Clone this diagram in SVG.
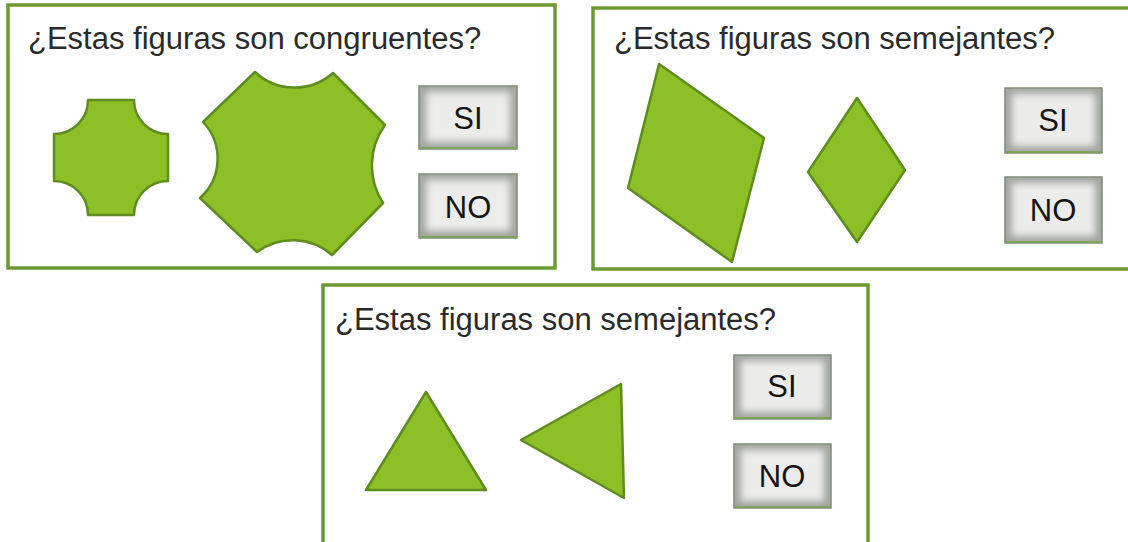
<svg xmlns="http://www.w3.org/2000/svg" width="1128" height="542" viewBox="0 0 1128 542">
<style>
.panel{fill:#fff;stroke:#6c9a32;stroke-width:3.5}
.q{font-family:"Liberation Sans",Arial,sans-serif;font-size:31px;fill:#2a2a2a}
.shape{fill:#8dbf26;stroke:#5f8c1f;stroke-width:2.5;stroke-linejoin:round}
.btnOuter{fill:#a2a69f;stroke:#7f8b78;stroke-width:1.5}
.btnInner{fill:#ececeb;filter:url(#soft)}
.btnBottom{fill:none;stroke:#7ea45c;stroke-width:2}
.bt{font-family:"Liberation Sans",Arial,sans-serif;font-size:31px;fill:#151515;text-anchor:middle}
</style>
<defs>
<filter id="soft" x="-20%" y="-20%" width="140%" height="140%"><feGaussianBlur stdDeviation="3.5"/></filter>
</defs>
<rect width="1128" height="542" fill="#fff"/>

<g id="panel1">
<rect class="panel" x="8" y="5" width="547" height="263"/>
<text class="q" x="28" y="49">¿Estas figuras son congruentes?</text>
<path class="shape" d="M88 100 L134 100 A34 34 0 0 0 168 134 L168 181 A34 34 0 0 0 134 215 L88 215 A34 34 0 0 0 54 181 L54 134 A34 34 0 0 0 88 100 Z"/>
<path class="shape" d="M203 122 L255 72 A58 58 0 0 0 333 73 L385 125 A69 69 0 0 0 383 203 L332 255 A60 60 0 0 0 257 252 L200 198 A53 53 0 0 0 203 122 Z"/>
<g id="p1si"><rect class="btnOuter" x="419" y="86" width="98" height="63"/><rect class="btnInner" x="426" y="92" width="84" height="50"/><line class="btnBottom" x1="420" y1="148" x2="516" y2="148"/><text class="bt" x="468" y="129">SI</text></g>
<g id="p1no"><rect class="btnOuter" x="419" y="174" width="98" height="64"/><rect class="btnInner" x="426" y="180" width="84" height="51"/><line class="btnBottom" x1="420" y1="237" x2="516" y2="237"/><text class="bt" x="468" y="218">NO</text></g>
</g>

<g id="panel2">
<rect class="panel" x="593" y="8" width="545" height="261"/>
<text class="q" x="614" y="49">¿Estas figuras son semejantes?</text>
<path class="shape" d="M659 64 L764 138 L732 262 L628 188 Z"/>
<path class="shape" d="M857 98 L905 170 L857 242 L808 172 Z"/>
<g id="p2si"><rect class="btnOuter" x="1005" y="88" width="97" height="65"/><rect class="btnInner" x="1012" y="94" width="83" height="52"/><line class="btnBottom" x1="1006" y1="152" x2="1101" y2="152"/><text class="bt" x="1053" y="131">SI</text></g>
<g id="p2no"><rect class="btnOuter" x="1005" y="177" width="97" height="66"/><rect class="btnInner" x="1012" y="183" width="83" height="53"/><line class="btnBottom" x1="1006" y1="242" x2="1101" y2="242"/><text class="bt" x="1053" y="221">NO</text></g>
</g>

<g id="panel3">
<rect class="panel" x="323" y="285" width="545" height="270"/>
<text class="q" x="335" y="330">¿Estas figuras son semejantes?</text>
<path class="shape" d="M426 392 L486 490 L366 490 Z"/>
<path class="shape" d="M621 384 L624 498 L521 440 Z"/>
<g id="p3si"><rect class="btnOuter" x="734" y="355" width="97" height="64"/><rect class="btnInner" x="741" y="361" width="83" height="51"/><line class="btnBottom" x1="735" y1="418" x2="830" y2="418"/><text class="bt" x="782" y="397">SI</text></g>
<g id="p3no"><rect class="btnOuter" x="734" y="444" width="97" height="64"/><rect class="btnInner" x="741" y="450" width="83" height="51"/><line class="btnBottom" x1="735" y1="507" x2="830" y2="507"/><text class="bt" x="782" y="487">NO</text></g>
</g>
<g id="connectors"/>
</svg>
